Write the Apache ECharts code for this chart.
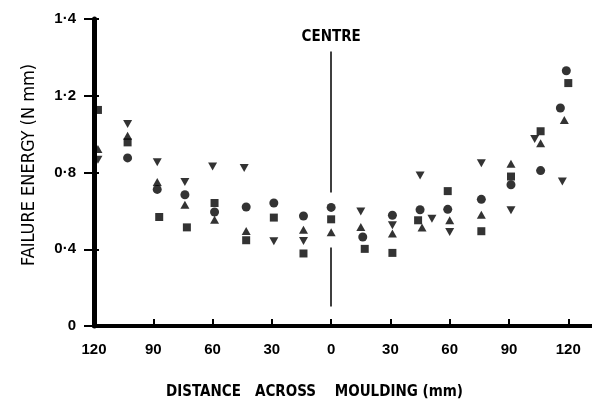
<!DOCTYPE html>
<html>
<head>
<meta charset="utf-8">
<script src="https://cdn.jsdelivr.net/npm/echarts@6/dist/echarts.min.js"></script>
<style>
  html, body { margin: 0; padding: 0; background: #fff; }
  #chart { width: 592px; height: 405px; }
</style>
</head>
<body>
<div id="chart"></div>
<script>
// distance across moulding (mm, negative = left of centre), failure energy (N mm)
const circles = [[-103, 0.876], [-88, 0.712], [-74, 0.684], [-59, 0.594], [-43, 0.62], [-29, 0.641], [-14, 0.573], [0, 0.618],
  [16, 0.464], [31, 0.577], [45, 0.606], [59, 0.608], [76, 0.66], [91, 0.736], [106, 0.81], [116, 1.136], [119, 1.33]]
const squares = [[-118, 1.126], [-103, 0.957], [-87, 0.568], [-73, 0.514], [-59, 0.641], [-43, 0.447], [-29, 0.565], [-14, 0.378],
  [0, 0.556], [17, 0.402], [31, 0.381], [44, 0.551], [59, 0.703], [76, 0.494], [91, 0.779], [106, 1.015], [120, 1.266]]
const trianglesUp = [[-118, 0.923], [-103, 0.992], [-88, 0.75], [-74, 0.632], [-59, 0.554], [-43, 0.495], [-14, 0.502], [0, 0.488],
  [15, 0.516], [31, 0.482], [46, 0.513], [60, 0.551], [76, 0.58], [91, 0.845], [106, 0.952], [118, 1.074]]
const trianglesDown = [[-118, 0.866], [-103, 1.053], [-88, 0.854], [-74, 0.75], [-60, 0.831], [-44, 0.824], [-29, 0.442], [-14, 0.443],
  [15, 0.597], [31, 0.525], [45, 0.784], [51, 0.559], [60, 0.49], [76, 0.848], [91, 0.603], [103, 0.975], [117, 0.753]]

const xTicks = [-120, -90, -60, -30, 0, 30, 60, 90, 120]
const yTickLabels = ['0', '0·4', '0·8', '1·2', '1·4']
const centreTop = 1.43

const narrow = '"DejaVu Sans Condensed", "Liberation Sans Narrow", sans-serif'
const bold = '"Liberation Sans", Arial, sans-serif'

const chart = echarts.init(document.getElementById('chart'))

const pointSeries = (data, symbol, size, rotate) => ({
  type: 'scatter',
  data: data,
  symbol: symbol,
  symbolSize: size,
  symbolRotate: rotate || 0,
  itemStyle: { color: '#000' },
  silent: true
})

const centreSeries = pointSeries(circles, 'circle', 9)
// centre line, drawn from the top down so the dashes start under the label
centreSeries.markLine = {
  silent: true,
  symbol: 'none',
  lineStyle: { color: '#000', width: 1.5, type: [141, 55, 59, 19] },
  label: {
    show: true,
    position: 'start',
    formatter: 'CENTRE',
    distance: 7,
    color: '#000',
    fontFamily: narrow,
    fontWeight: 'bold',
    fontSize: 15
  },
  data: [[{ coord: [0, centreTop] }, { coord: [0, 0] }]]
}

chart.setOption({
  animation: false,
  backgroundColor: '#fff',
  grid: { left: 94, right: 0, top: 19, bottom: 79 },
  xAxis: {
    type: 'value',
    min: -120,
    max: 132,
    splitLine: { show: false },
    axisLine: { onZero: false, lineStyle: { color: '#000', width: 4 } },
    axisTick: { inside: true, length: 7, lineStyle: { color: '#000', width: 2 }, customValues: xTicks },
    axisLabel: {
      customValues: xTicks,
      formatter: v => String(Math.abs(v)),
      color: '#000',
      fontFamily: bold,
      fontWeight: 'bold',
      fontSize: 15,
      margin: 16
    },
    name: 'DISTANCE   ACROSS    MOULDING (mm)',
    nameLocation: 'middle',
    nameGap: 59,
    nameTextStyle: {
      color: '#000',
      fontFamily: narrow,
      fontWeight: 'bold',
      fontSize: 15,
      padding: [0, 57, 0, 0]
    }
  },
  yAxis: [
    {
      type: 'value',
      min: 0,
      max: 1.6,
      interval: 0.4,
      splitLine: { show: false },
      axisLine: { show: true, onZero: false, lineStyle: { color: '#000', width: 5 } },
      axisTick: { show: true, length: 10, lineStyle: { color: '#000', width: 2 } },
      axisLabel: {
        formatter: (v, i) => yTickLabels[i],
        color: '#000',
        fontFamily: bold,
        fontWeight: 'bold',
        fontSize: 15,
        margin: 18
      },
      name: 'FAILURE ENERGY (N mm)',
      nameLocation: 'middle',
      nameGap: 56,
      nameTextStyle: {
        color: '#000',
        fontFamily: narrow,
        fontSize: 18,
        padding: [0, 0, 0, 15]
      }
    },
    {
      type: 'value',
      position: 'left',
      min: 0,
      max: 1.6,
      interval: 0.4,
      splitLine: { show: false },
      axisLine: { show: false, onZero: false },
      axisTick: { show: true, inside: true, length: 5, lineStyle: { color: '#000', width: 2 } },
      axisLabel: { show: false }
    }
  ],
  series: [
    centreSeries,
    pointSeries(squares, 'rect', 8),
    pointSeries(trianglesUp, 'triangle', [9, 8]),
    pointSeries(trianglesDown, 'triangle', [9, 8], 180)
  ]
})
</script>
</body>
</html>
